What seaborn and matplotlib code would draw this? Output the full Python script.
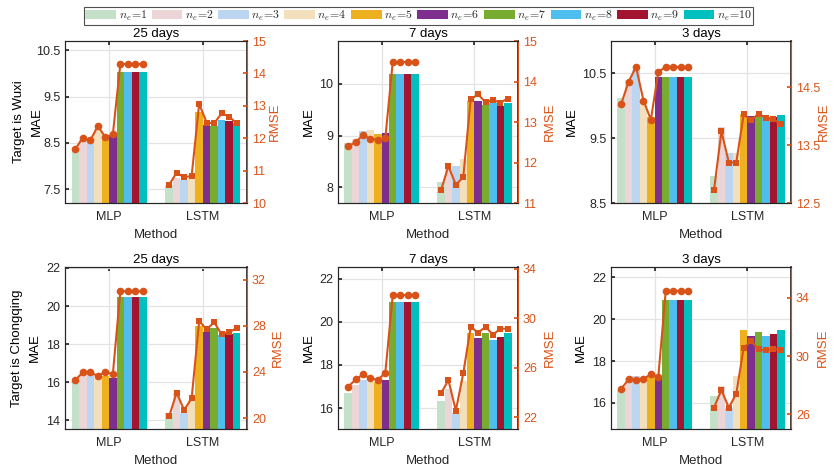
import numpy as np
import pandas as pd
import matplotlib
matplotlib.use('Agg')
import matplotlib.pyplot as plt
import seaborn as sns
from matplotlib.patches import Patch

# ---------------- data ----------------
methods = ['MLP', 'LSTM']
ne_values = [1, 2, 3, 4, 5, 6, 7, 8, 9, 10]
ne_labels = [r'$n_e\!=\!%d$' % n for n in ne_values]
titles = ['25 days', '7 days', '3 days']
row_labels = ['Target is Wuxi\nMAE', 'Target is Chongqing\nMAE']

bar_colors = ['#c5e0c9', '#ecd5d6', '#bcd6f1', '#f4dfbd', '#edb120',
              '#7e2f8e', '#77ac30', '#4dbeee', '#a2142f', '#00bfbf']
line_color = '#d95319'

# Wuxi, 25 days
wx25_mae_mlp = [8.34, 8.56, 8.52, 8.77, 8.59, 8.64, 10.04, 10.04, 10.04, 10.04]
wx25_mae_lstm = [7.58, 7.74, 7.69, 7.75, 9.16, 8.89, 8.87, 8.99, 8.98, 8.92]
wx25_rmse_mlp = [11.66, 12.02, 11.93, 12.38, 12.03, 12.12, 14.29, 14.29, 14.29, 14.29]
wx25_rmse_lstm = [10.56, 10.94, 10.79, 10.84, 13.06, 12.48, 12.46, 12.77, 12.66, 12.46]
# Wuxi, 7 days
wx7_mae_mlp = [8.86, 8.94, 9.08, 9.11, 9.03, 9.04, 10.19, 10.19, 10.19, 10.19]
wx7_mae_lstm = [8.10, 8.35, 8.42, 8.55, 9.67, 9.67, 9.58, 9.62, 9.57, 9.62]
wx7_rmse_mlp = [12.40, 12.50, 12.68, 12.58, 12.56, 12.60, 14.48, 14.48, 14.48, 14.48]
wx7_rmse_lstm = [11.31, 11.91, 11.45, 11.64, 13.56, 13.68, 13.49, 13.54, 13.48, 13.58]
# Wuxi, 3 days
wx3_mae_mlp = [10.12, 10.40, 10.55, 10.09, 9.83, 10.45, 10.45, 10.45, 10.45, 10.45]
wx3_mae_lstm = [8.91, 9.68, 9.27, 9.27, 9.88, 9.85, 9.86, 9.83, 9.83, 9.86]
wx3_rmse_mlp = [14.21, 14.60, 14.85, 14.27, 13.94, 14.77, 14.85, 14.85, 14.85, 14.85]
wx3_rmse_lstm = [12.72, 13.74, 13.20, 13.20, 14.03, 13.93, 14.04, 13.97, 13.95, 13.86]
# Chongqing, 25 days
cq25_mae_mlp = [16.03, 16.40, 16.43, 16.20, 16.33, 16.20, 20.47, 20.47, 20.47, 20.47]
cq25_mae_lstm = [14.38, 15.45, 14.38, 15.07, 18.96, 18.65, 18.85, 18.47, 18.56, 18.60]
cq25_rmse_mlp = [23.30, 23.96, 23.96, 23.65, 24.00, 23.80, 31.00, 31.00, 31.00, 31.00]
cq25_rmse_lstm = [20.14, 22.20, 20.69, 21.72, 28.40, 27.70, 28.30, 27.25, 27.45, 27.80]
# Chongqing, 7 days
cq7_mae_mlp = [16.72, 17.08, 17.30, 17.20, 17.20, 17.30, 20.92, 20.92, 20.92, 20.92]
cq7_mae_lstm = [16.34, 16.90, 15.77, 17.26, 19.50, 19.23, 19.46, 19.15, 19.30, 19.50]
cq7_rmse_mlp = [24.47, 25.06, 25.46, 25.14, 25.03, 25.60, 31.86, 31.86, 31.86, 31.86]
cq7_rmse_lstm = [23.94, 25.00, 22.54, 25.55, 29.30, 28.83, 29.30, 28.67, 29.15, 29.15]
# Chongqing, 3 days
cq3_mae_mlp = [16.60, 17.19, 17.27, 17.20, 17.27, 17.19, 20.89, 20.89, 20.89, 20.89]
cq3_mae_lstm = [16.35, 16.80, 15.76, 17.27, 19.48, 19.21, 19.40, 19.17, 19.28, 19.48]
cq3_rmse_mlp = [27.76, 28.40, 28.35, 28.45, 28.74, 28.58, 34.46, 34.46, 34.46, 34.46]
cq3_rmse_lstm = [26.46, 27.67, 26.46, 27.42, 30.57, 31.03, 30.46, 30.39, 30.50, 30.39]

# axis settings per panel
mae_ticks = [[7.5, 8.5, 9.5, 10.5], [8, 9, 10], [8.5, 9.5, 10.5],
             [14, 16, 18, 20, 22], [16, 18, 20, 22], [16, 18, 20, 22]]
mae_lims = [(7.2, 10.7), (7.7, 10.82), (8.5, 11.0),
            (13.55, 22.05), (15.03, 22.54), (14.76, 22.48)]
rmse_ticks = [[10, 11, 12, 13, 14, 15], [11, 12, 13, 14, 15], [12.5, 13.5, 14.5],
              [20, 24, 28, 32], [22, 26, 30, 34], [26, 30, 34]]
rmse_lims = [(10, 15), (11, 15), (12.5, 15.3),
             (19.05, 33.1), (21.06, 34.13), (25.0, 36.1)]

panels = [
    (wx25_mae_mlp, wx25_mae_lstm, wx25_rmse_mlp, wx25_rmse_lstm),
    (wx7_mae_mlp, wx7_mae_lstm, wx7_rmse_mlp, wx7_rmse_lstm),
    (wx3_mae_mlp, wx3_mae_lstm, wx3_rmse_mlp, wx3_rmse_lstm),
    (cq25_mae_mlp, cq25_mae_lstm, cq25_rmse_mlp, cq25_rmse_lstm),
    (cq7_mae_mlp, cq7_mae_lstm, cq7_rmse_mlp, cq7_rmse_lstm),
    (cq3_mae_mlp, cq3_mae_lstm, cq3_rmse_mlp, cq3_rmse_lstm),
]

# ---------------- layout / style ----------------
sns.set_theme(style='white')
plt.rcParams['font.family'] = ['Liberation Sans', 'DejaVu Sans']
plt.rcParams['mathtext.fontset'] = 'cm'

W, H = 837, 469
fig = plt.figure(figsize=(W / 100, H / 100), dpi=100)

col_lr = [(65, 247), (338, 518), (611, 791)]
row_tb = [(41, 203), (267, 429)]
left_label_x = [-0.121, -0.128, -0.183, -0.131, -0.128, -0.133]
right_label_x = [1.122, 1.142, 1.150, 1.134, 1.142, 1.144]

dark = '#262626'
grid_c = '#e3e3e3'
tick_fs = 9
label_fs = 9.5

for k, (mae_mlp, mae_lstm, rmse_mlp, rmse_lstm) in enumerate(panels):
    r, c = divmod(k, 3)
    l, rr = col_lr[c]
    t, b = row_tb[r]
    ax = fig.add_axes([l / W, 1 - b / H, (rr - l) / W, (b - t) / H])

    df = pd.DataFrame({
        'Method': [m for m in methods for _ in ne_labels],
        'ne': ne_labels * 2,
        'MAE': list(mae_mlp) + list(mae_lstm),
    })
    sns.barplot(data=df, x='Method', y='MAE', hue='ne', order=methods,
                hue_order=ne_labels, palette=bar_colors, saturation=1,
                width=0.8, gap=0, errorbar=None, legend=False,
                linewidth=0, edgecolor='none', ax=ax)

    ax.set_xlim(-0.47, 1.47)
    ax.set_ylim(*mae_lims[k])
    ax.set_yticks(mae_ticks[k], ['%g' % v for v in mae_ticks[k]])
    ax.set_axisbelow(True)
    ax.grid(True, color=grid_c, linewidth=0.9)
    ax.set_xlabel('Method', fontsize=label_fs, color=dark, labelpad=4)
    ax.set_ylabel(row_labels[r] if c == 0 else 'MAE', fontsize=label_fs,
                  color='black', linespacing=1.7)
    ax.yaxis.set_label_coords(left_label_x[k], 0.5)
    ax.set_title(titles[c], fontsize=label_fs, color='black', pad=3)
    ax.tick_params(axis='both', direction='in', length=3, labelsize=tick_fs,
                   colors=dark, top=True)
    ax.tick_params(axis='x', pad=6)
    ax.tick_params(axis='y', pad=3.5)
    for s in ['left', 'bottom', 'top']:
        ax.spines[s].set_color(dark)
        ax.spines[s].set_linewidth(0.8)

    # bar centres taken from the drawn bars
    centers = [[p.get_x() + p.get_width() / 2 for p in cont] for cont in ax.containers]
    x_mlp = [centers[i][0] for i in range(len(ne_labels))]
    x_lstm = [centers[i][1] for i in range(len(ne_labels))]

    ax2 = ax.twinx()
    ax2.plot(x_mlp, rmse_mlp, color=line_color, lw=1.5, marker='o',
             markersize=5.5, markeredgewidth=0)
    ax2.plot(x_lstm, rmse_lstm, color=line_color, lw=1.5, marker='s',
             markersize=5, markeredgewidth=0)
    ax2.set_ylim(*rmse_lims[k])
    ax2.set_yticks(rmse_ticks[k], ['%g' % v for v in rmse_ticks[k]])
    ax2.set_ylabel('RMSE', fontsize=label_fs, color=line_color)
    ax2.yaxis.set_label_coords(right_label_x[k], 0.5)
    ax2.tick_params(axis='y', direction='in', length=3, labelsize=tick_fs,
                    colors=line_color, pad=3.5)
    ax2.spines['right'].set_color(line_color)
    ax2.spines['right'].set_linewidth(0.8)
    for s in ['left', 'bottom', 'top']:
        ax2.spines[s].set_color(dark)
        ax2.spines[s].set_linewidth(0.8)
    ax2.grid(False)

handles = [Patch(facecolor=col, edgecolor='none') for col in bar_colors]
leg = fig.legend(handles, ne_labels, loc='upper center', ncol=10,
                 bbox_to_anchor=(0.5, 1 - 7 / H), frameon=True, fancybox=False,
                 edgecolor=dark, fontsize=8.5, handlelength=2.6, handleheight=0.8,
                 handletextpad=0.2, columnspacing=0.38, borderpad=0.15,
                 borderaxespad=0)
leg.get_frame().set_linewidth(0.8)

fig.savefig('out.png', dpi=100)
